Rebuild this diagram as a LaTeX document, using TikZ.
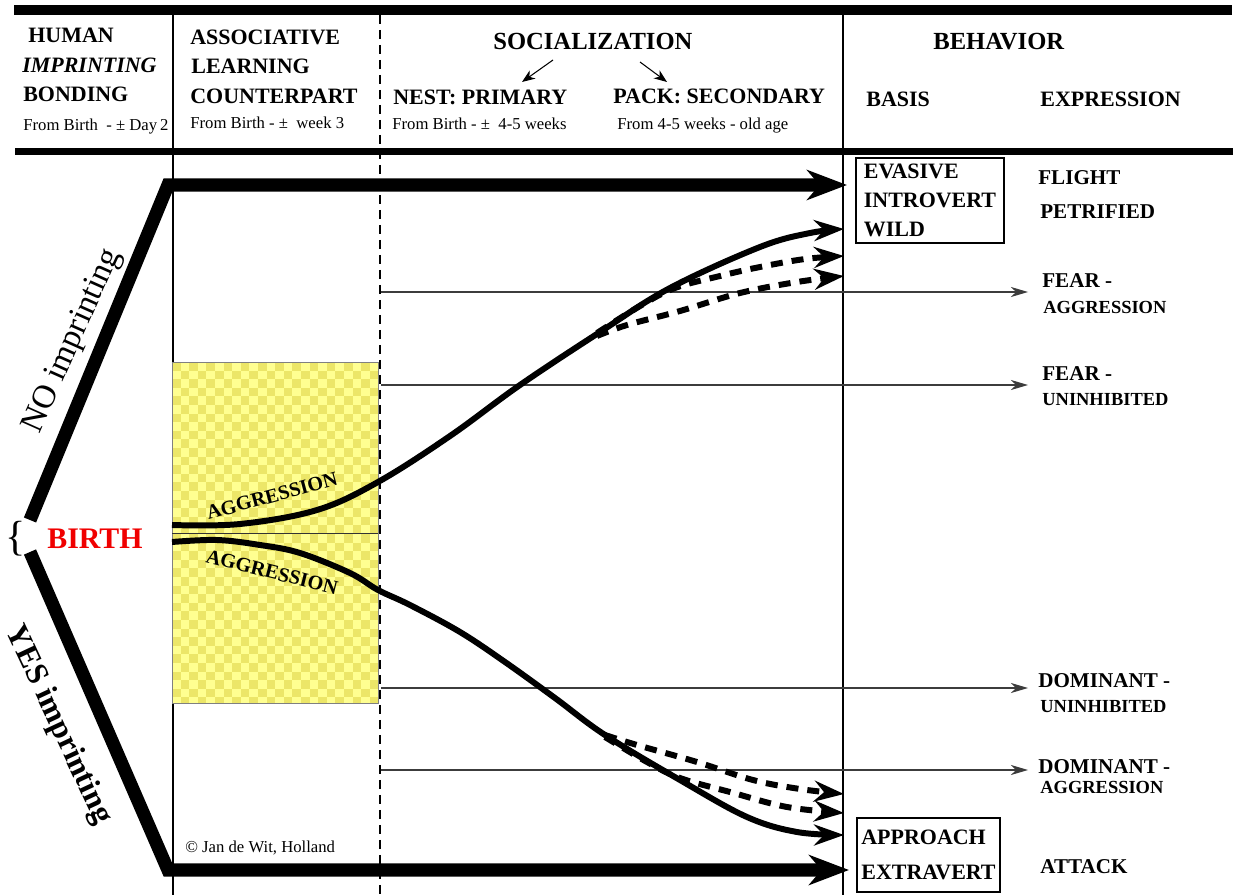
\documentclass[tikz,border=0pt]{standalone}
\usepackage{fontspec}
\setmainfont{Liberation Serif}
\usetikzlibrary{arrows.meta,positioning}

\definecolor{chklight}{RGB}{255,255,145}
\definecolor{chkdark}{RGB}{236,230,104}
\definecolor{thingray}{RGB}{60,60,60}
\definecolor{birthred}{RGB}{240,0,0}

\tikzset{
  head/.style={font=\bfseries\fontsize{12.5}{15}\selectfont, inner sep=0, anchor=base west},
  bighead/.style={font=\bfseries\fontsize{14}{17}\selectfont, inner sep=0, anchor=base west},
  sub/.style={font=\fontsize{9.5}{11}\selectfont, inner sep=0, anchor=base west},
  expr/.style={font=\bfseries\fontsize{12}{14}\selectfont, inner sep=0, anchor=base west},
  exprsmall/.style={font=\bfseries\fontsize{10.5}{12}\selectfont, inner sep=0, anchor=base west},
  aggr/.style={font=\bfseries\fontsize{11.5}{14}\selectfont, inner sep=0},
  route/.style={line width=7.5pt, line join=miter, -{Stealth[length=0.8cm,width=0.6cm,inset=0.25cm]}},
  trend/.style={line width=3.4pt, -{Stealth[length=0.6cm,width=0.42cm,inset=0.2cm]}},
  trend dash/.style={trend, dash pattern=on 0.24cm off 0.18cm},
  outcome/.style={draw=thingray, line width=0.7pt, -{Stealth[length=0.34cm,width=0.2cm,inset=0.1cm]}},
  basisbox/.style={draw, line width=0.6pt, font=\bfseries\fontsize{12.5}{16.5}\selectfont, align=left, inner sep=0},
}

\begin{document}
\begin{tikzpicture}[x=0.02cm, y=-0.02cm]

    \useasboundingbox (0,0) rectangle (1237,895);

    % column lines
    \draw[line width=1.5pt] (173,15) -- (173,895);
    \draw[line width=0.7pt] (843,15) -- (843,895);

    % learning period
    \begin{scope}
        \clip (172,362) rectangle (378,703);
        \fill[chklight] (172,362) rectangle (378,703);
        \foreach \i in {0,...,23} {
            \foreach \j in {0,...,39} {
                \pgfmathtruncatemacro\odd{mod(\i+\j,2)}
                \ifnum\odd=0 \fill[chkdark] ({172+8.6*\i},{362+8.6*\j}) rectangle ++(8.6,8.6); \fi
            }
        }
    \end{scope}
    \draw[gray, line width=0.5pt] (172,362) rectangle (378,703);
    \draw[black!80, line width=0.5pt] (172,533) -- (378,533);

    \draw[line width=1.7pt, dash pattern=on 0.18cm off 0.12cm] (380,15) -- (380,895);

    % outcomes
    \draw[outcome] (381,292) -- (1028,292);
    \draw[outcome] (381,385) -- (1028,385);
    \draw[outcome] (381,688) -- (1028,688);
    \draw[outcome] (381,770) -- (1028,770);

    % aggression paths
    \draw[trend] plot[smooth, tension=0.6] coordinates {(172,525) (240,524) (317,510) (378,482) (450,436) (520,385) (600,332) (670,288) (760,247) (810,233) (844,229)};
    \draw[trend dash] plot[smooth, tension=0.6] coordinates {(597,333) (640,306) (675,288) (720,276) (760,267) (805,259) (844,256)};
    \draw[trend dash] plot[smooth, tension=0.6] coordinates {(597,336) (627,325) (680,311) (740,293) (797,282) (844,276)};

    \draw[trend] plot[smooth, tension=0.6] coordinates {(172,542) (217,540) (260,545) (300,553) (350,573) (378,590) (410,605) (460,632) (505,662) (555,698) (605,735) (680,780) (747,817) (797,832) (844,835)};
    \draw[trend dash] plot[smooth, tension=0.6] coordinates {(605,735) (637,745) (697,762) (753,780) (800,789) (844,794)};
    \draw[trend dash] plot[smooth, tension=0.6] coordinates {(605,737) (647,762) (680,778) (730,792) (787,807) (844,813)};

    \node[aggr, rotate=15] (aggup) at (272,496) {AGGRESSION};
    \node[aggr, rotate=-14] (aggdown) at (272,572) {AGGRESSION};

    % imprinting routes
    \coordinate (noStart) at (30,520);
    \coordinate (noTop) at (168,185);
    \coordinate (noEnd) at (847,185);
    \coordinate (yesStart) at (30,552);
    \coordinate (yesBot) at (168,870);
    \coordinate (yesEnd) at (849,870);
    \draw[route] (noStart) -- (noTop) -- (noEnd);
    \draw[route] (yesStart) -- (yesBot) -- (yesEnd);

    \node[font=\fontsize{19}{23}\selectfont, rotate=66] (noimp) at (73,341) {NO imprinting};
    \node[font=\bfseries\fontsize{18}{22}\selectfont, rotate=-65] (yesimp) at (58,725) {YES imprinting};
    \node[font=\bfseries\fontsize{17}{20}\selectfont, text=birthred, anchor=base west, inner sep=0] (birth) at (47,548) {BIRTH};
    \node[font=\fontsize{24}{24}\selectfont, inner sep=0] (brace) at (16,539) {\{};
    \node[sub] (copy) at (185,852) {© Jan de Wit, Holland};

    % header
    \draw[line width=5.7pt] (14,10) -- (1232,10);
    \draw[line width=4pt] (15,151.5) -- (1233,151.5);

    \node[head] (human) at (28,43) {HUMAN};
    \node[head, font=\bfseries\itshape\fontsize{12.5}{15}\selectfont] (imprint) at (22,73) {IMPRINTING};
    \node[head] (bonding) at (23,102) {BONDING};
    \node[sub] (humansub) at (23,131) {From Birth~ - ± Day\,2};

    \node[head] (assoc) at (190,45) {ASSOCIATIVE};
    \node[head] (learn) at (191,74) {LEARNING};
    \node[head] (counter) at (190,104) {COUNTERPART};
    \node[sub] (assocsub) at (190,129) {From Birth - ±~ week 3};

    \node[bighead] (social) at (493,50) {SOCIALIZATION};
    \node[head] (nest) at (393,105) {NEST: PRIMARY};
    \node[head] (pack) at (613,104) {PACK: SECONDARY};
    \node[sub] (nestsub) at (392,130) {From Birth - ±~ 4-5 weeks};
    \node[sub] (packsub) at (617,130) {From 4-5 weeks - old age};
    \draw[line width=0.6pt, -{Stealth[length=0.26cm,width=0.2cm,inset=0.08cm]}] (553,60) -- (522,82);
    \draw[line width=0.6pt, -{Stealth[length=0.26cm,width=0.2cm,inset=0.08cm]}] (640,62) -- (667,82);

    \node[bighead] (behav) at (933,50) {BEHAVIOR};
    \node[head] (basis) at (866,107) {BASIS};
    \node[head] (exprhead) at (1040,107) {EXPRESSION};

    % behavior
    \node[basisbox, minimum width=2.96cm, minimum height=1.7cm] (evasive) at (930,200.5) {EVASIVE\\INTROVERT\\WILD};
    \node[basisbox, minimum width=2.86cm, minimum height=1.48cm, font=\bfseries\fontsize{12.5}{20}\selectfont] (approach) at (928.5,855) {APPROACH\\EXTRAVERT};

    \node[expr] (flight) at (1038,185) {FLIGHT};
    \node[expr] (petri) at (1040,219) {PETRIFIED};
    \node[expr] (fearA) at (1042,287) {FEAR -};
    \node[exprsmall] (fearAsub) at (1043,313) {AGGRESSION};
    \node[expr] (fearU) at (1042,380) {FEAR -};
    \node[exprsmall] (fearUsub) at (1042,405) {UNINHIBITED};
    \node[expr] (domU) at (1038,687) {DOMINANT -};
    \node[exprsmall] (domUsub) at (1040,712) {UNINHIBITED};
    \node[expr] (domA) at (1038,773) {DOMINANT -};
    \node[exprsmall] (domAsub) at (1040,793) {AGGRESSION};
    \node[expr] (attack) at (1040,873) {ATTACK};

\end{tikzpicture}
\end{document}
